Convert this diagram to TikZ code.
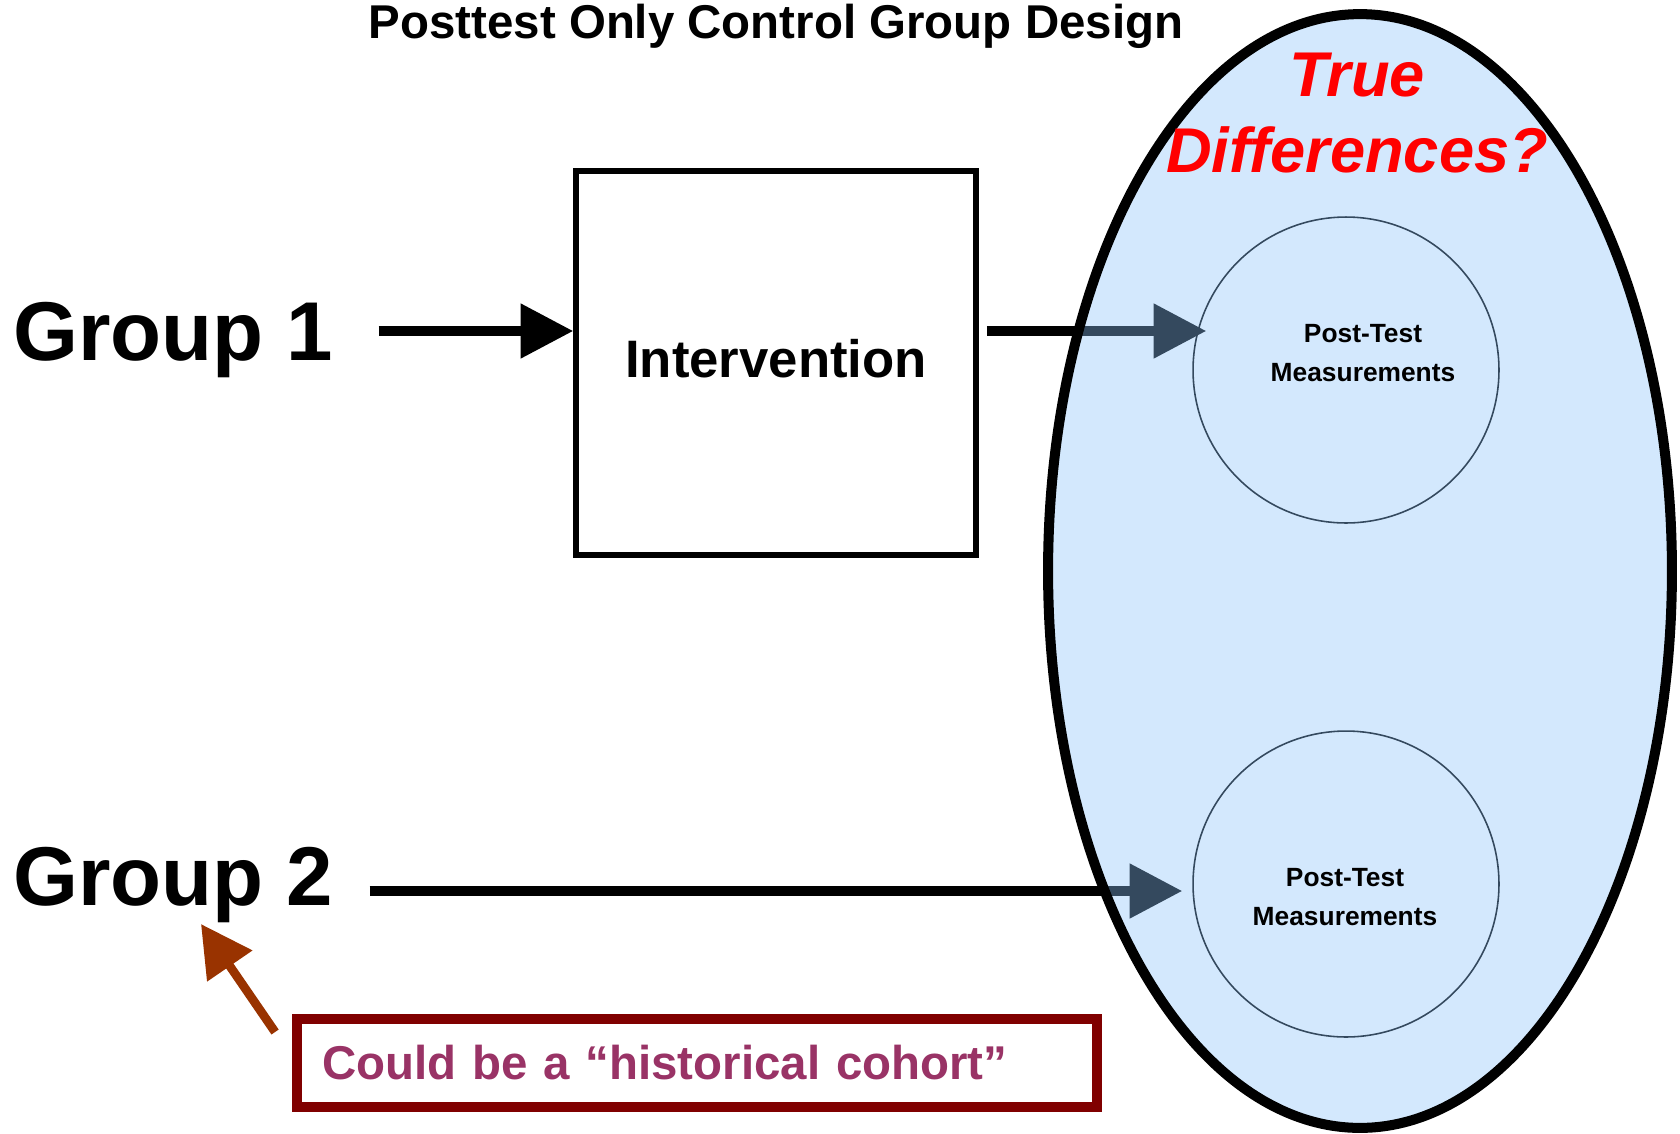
\documentclass[tikz,border=0pt]{standalone}
\usepackage{fontspec}
\setmainfont{Liberation Sans}
\usepackage{tikz}
\usetikzlibrary{shapes.geometric, calc, arrows.meta}
\definecolor{ovalblue}{RGB}{139,195,251}
\definecolor{cohortred}{RGB}{128,0,0}
\definecolor{cohorttext}{RGB}{153,51,102}
\definecolor{pointerbrown}{RGB}{153,51,0}

\begin{document}
\begin{tikzpicture}[x=0.02cm, y=-0.02cm]

\tikzstyle{grp} = [inner sep=0pt, anchor=base west, font=\fontsize{47.5}{57}\selectfont\bfseries]
\tikzstyle{process} = [rectangle, minimum width=8cm, minimum height=7.68cm, text centered, text depth=5.5pt, draw=black, line width=3.2pt, font=\fontsize{30}{36}\selectfont\bfseries]
\tikzstyle{meas} = [circle, minimum size=6.12cm, draw=black, line width=0.9pt, inner sep=0pt]
\tikzstyle{meastext} = [align=center, inner sep=0pt, font=\fontsize{15}{21.7}\selectfont\bfseries]
\tikzstyle{arrow} = [line width=5.4pt, -{Triangle[length=30pt, width=30pt]}]
\tikzstyle{pointer} = [line width=5pt, draw=pointerbrown, fill=pointerbrown, -{Triangle[length=29pt, width=30pt]}]

\useasboundingbox (0,0) rectangle (1680,1133);

\node (title) [anchor=base, inner sep=0pt, font=\fontsize{27}{32}\selectfont\bfseries] at (776,38) {Posttest Only Control Group Design};
\node (g1) [grp] at (13,360) {Group 1};
\node (g2) [grp] at (13,905) {Group 2};
\node (interv) [process] at (776,363) {Intervention};
\node (meas1) [meas] at (1346,370) {};
\node (meas2) [meas] at (1346,884) {};

\coordinate (r1) at (0,331);
\coordinate (r2) at (0,891);
\coordinate (histtip) at (201,924);

\draw [arrow] ($(g1.east |- r1)+(45,0)$) -- (interv.west |- r1);
\draw [arrow] ($(interv.east |- r1)+(8,0)$) -- ($(meas1.west |- r1)+(14,0)$);
\draw [arrow] ($(g2.east |- r2)+(36,0)$) -- ($(meas2.west |- r2)+(-10,0)$);

% oval drawn over the arrows, see-through fill
\node (oval) [ellipse, minimum width=12.48cm, minimum height=22.28cm, inner sep=0pt, draw=black, draw opacity=1, line width=5.7pt, fill=ovalblue, fill opacity=0.375] at (1360,571) {};

\node (m1txt) [meastext] at (1363,353) {Post-Test\\Measurements};
\node (m2txt) [meastext] at (1345,897) {Post-Test\\Measurements};
\node (truediff) [align=center, inner sep=0pt, text=red, font=\fontsize{36}{43}\selectfont\bfseries\itshape] at (1357,113) {True\\Differences?};

\node (cohort) [draw=cohortred, line width=5.7pt, text width=15cm, align=left, inner xsep=0.5cm, minimum height=1.76cm, text=cohorttext, font=\fontsize{27}{33}\selectfont\bfseries] at (697,1063) {Could be a “historical cohort”};
\draw [pointer] ($(cohort.north west)+(-17,18)$) -- (histtip);
\end{tikzpicture}
\end{document}
